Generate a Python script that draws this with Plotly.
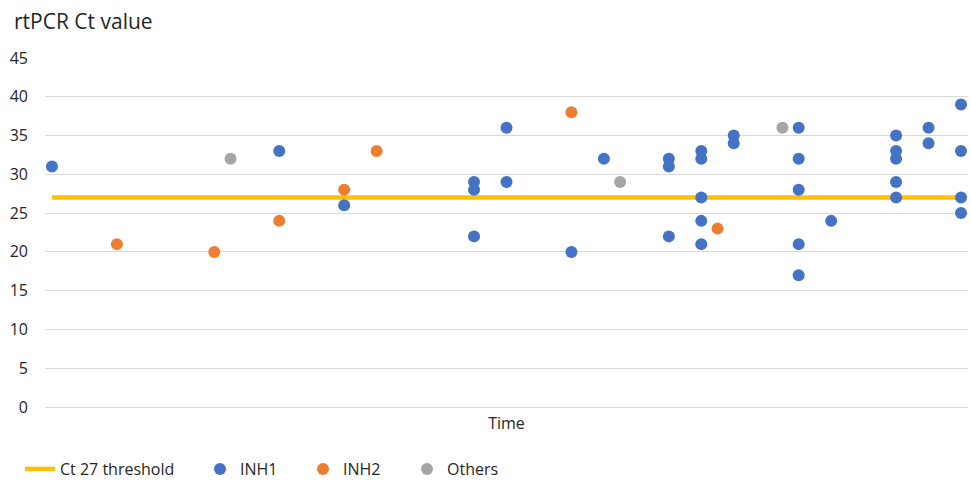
import plotly.graph_objects as go

# Sampling time index and rtPCR Ct value for each group
inh1_time = [0, 14, 18, 26, 26, 26, 28, 28, 32, 34, 38, 38, 38,
             40, 40, 40, 40, 40, 42, 42, 46, 46, 46, 46, 46, 48,
             52, 52, 52, 52, 52, 54, 54, 56, 56, 56, 56]
inh1_ct = [31, 33, 26, 29, 28, 22, 36, 29, 20, 32, 32, 31, 22,
           33, 32, 27, 24, 21, 35, 34, 36, 32, 28, 21, 17, 24,
           35, 33, 32, 29, 27, 36, 34, 39, 33, 27, 25]

inh2_time = [4, 10, 14, 18, 20, 32, 41]
inh2_ct = [21, 20, 24, 28, 33, 38, 23]

others_time = [11, 35, 45]
others_ct = [32, 29, 36]

threshold_time = [0, 56]
threshold_ct = [27, 27]

y_ticks = [0, 5, 10, 15, 20, 25, 30, 35, 40, 45]

FONT = "Open Sans"
TEXT = "#262626"
W, H = 971, 486
M_L, M_R, M_T, M_B = 45, 3, 58, 79
PLOT_W = W - M_L - M_R

fig = go.Figure()
fig.add_trace(go.Scatter(
    x=threshold_time, y=threshold_ct, mode="lines", name="Ct 27 threshold",
    line=dict(color="#FFC000", width=4.5), legend="legend",
))
fig.add_trace(go.Scatter(
    x=inh1_time, y=inh1_ct, mode="markers", name="INH1",
    marker=dict(color="#4472C4", size=12), legend="legend2",
))
fig.add_trace(go.Scatter(
    x=inh2_time, y=inh2_ct, mode="markers", name="INH2",
    marker=dict(color="#ED7D31", size=12), legend="legend3",
))
fig.add_trace(go.Scatter(
    x=others_time, y=others_ct, mode="markers", name="Others",
    marker=dict(color="#A5A5A5", size=12), legend="legend4",
))


def legend_at(left_px):
    # one legend box per series, laid out along the bottom row
    return dict(
        orientation="h", x=(left_px - M_L) / PLOT_W, xanchor="left",
        yref="container", y=-0.01, yanchor="bottom",
        font=dict(family=FONT, size=16, color=TEXT),
        bgcolor="rgba(0,0,0,0)",
    )


fig.update_layout(
    width=W, height=H,
    margin=dict(l=M_L, r=M_R, t=M_T, b=M_B, autoexpand=False),
    paper_bgcolor="white", plot_bgcolor="white",
    font=dict(family=FONT, size=16, color=TEXT),
    title=dict(
        text="rtPCR Ct value", font=dict(family=FONT, size=21, color=TEXT),
        x=14 / W, xanchor="left", y=1 - 22 / H, yanchor="middle",
    ),
    showlegend=True,
    legend=legend_at(20),
    legend2=legend_at(200),
    legend3=legend_at(303),
    legend4=legend_at(407),
)
fig.update_xaxes(
    range=[-0.43, 56.43], showticklabels=False, showgrid=False,
    zeroline=False, showline=False, ticks="",
    title=dict(text="Time", font=dict(family=FONT, size=16, color=TEXT), standoff=10),
)
fig.update_yaxes(
    range=[0, 45], tickvals=y_ticks, showgrid=True, gridcolor="#D9D9D9",
    gridwidth=1, zeroline=True, zerolinecolor="#D9D9D9", zerolinewidth=1,
    showline=False, ticks="",
    tickfont=dict(family=FONT, size=16, color=TEXT), ticklabelstandoff=16,
)

fig.write_html("out.html")
